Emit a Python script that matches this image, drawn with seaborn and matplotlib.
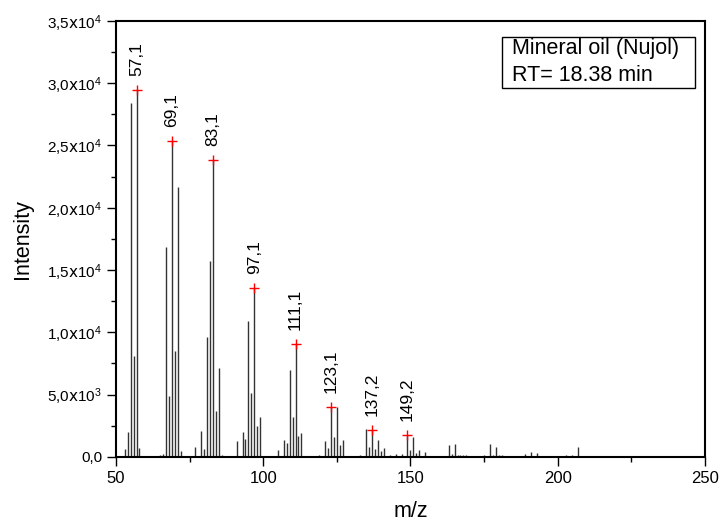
import matplotlib
matplotlib.use("Agg")
import matplotlib.pyplot as plt
import numpy as np
import pandas as pd
import seaborn as sns
from matplotlib.patches import Rectangle
from matplotlib.ticker import FuncFormatter, MultipleLocator

# m/z and intensity of every stick in the spectrum
mz = [53, 54, 55, 56, 57, 58, 65, 66, 67, 68, 69, 70, 71, 72,
      77, 79, 80, 81, 82, 83, 84, 85, 86,
      91, 93, 94, 95, 96, 97, 98, 99,
      105, 107, 108, 109, 110, 111, 112, 113,
      119, 121, 122, 123, 124, 125, 126, 127,
      133, 135, 136, 137, 138, 139, 140, 141, 143, 145, 147,
      149, 150, 151, 152, 153, 155,
      163, 164, 165, 166, 167, 168, 169,
      175, 177, 178, 179, 180, 181,
      189, 191, 193, 203, 205, 207, 217, 233]
intensity = [640, 2030, 28420, 8120, 29450, 720, 150, 200, 16870, 4890, 25350, 8500, 21630, 500,
             800, 2080, 670, 9650, 15750, 23820, 3710, 7160, 150,
             1280, 2000, 1440, 10930, 5110, 13580, 2510, 3230,
             560, 1360, 1150, 6980, 3230, 9040, 1680, 1950,
             120, 1310, 750, 4040, 1630, 3990, 960, 1360,
             150, 2220, 780, 2170, 620, 1360, 510, 700, 180, 250, 200,
             1760, 560, 1580, 350, 560, 370,
             960, 200, 1040, 150, 150, 120, 120,
             150, 1040, 160, 780, 130, 120,
             220, 380, 300, 130, 130, 830, 100, 100]

# labelled peaks
peak_mz = [57, 69, 83, 97, 111, 123, 137, 149]
peak_labels = ["57,1", "69,1", "83,1", "97,1", "111,1", "123,1", "137,2", "149,2"]

df = pd.DataFrame({"mz": mz, "intensity": intensity})
peaks = df.set_index("mz").loc[peak_mz].reset_index()
peaks["label"] = peak_labels

sns.set_theme(style="ticks")
plt.rcParams["font.family"] = ["Liberation Sans", "DejaVu Sans"]
plt.rcParams["mathtext.default"] = "regular"
plt.rcParams["text.color"] = "black"
plt.rcParams["axes.labelcolor"] = "black"
plt.rcParams["xtick.color"] = "black"
plt.rcParams["ytick.color"] = "black"

fig, ax = plt.subplots(figsize=(7.2, 5.21), dpi=100)
fig.subplots_adjust(left=0.161, right=0.979, top=0.960, bottom=0.123)

# sticks
ax.vlines(df.mz, 0, df.intensity, color="#333333", lw=1.0)

# peak markers
sns.scatterplot(data=peaks, x="mz", y="intensity", marker="+", color="red",
                s=50, linewidth=1.0, ax=ax, zorder=5, legend=False)
for _, row in peaks.iterrows():
    ax.annotate(row.label, (row.mz, row.intensity), xytext=(0, 10),
                textcoords="offset points", rotation=90, ha="center",
                va="bottom", fontsize=12.5, color="black")

ax.set_xlim(50, 250)
ax.set_ylim(0, 35000)
ax.xaxis.set_major_locator(MultipleLocator(50))
ax.xaxis.set_minor_locator(MultipleLocator(25))
ax.yaxis.set_major_locator(MultipleLocator(5000))
ax.yaxis.set_minor_locator(MultipleLocator(2500))


def sci_comma(v, pos):
    if v == 0:
        return "0,0"
    exp = int(np.floor(np.log10(abs(v))))
    mant = "{:.1f}".format(v / 10 ** exp).replace(".", "{,}")
    return r"$%s\mathrm{x}10^{%d}$" % (mant, exp)


ax.yaxis.set_major_formatter(FuncFormatter(sci_comma))

for s in ax.spines.values():
    s.set_linewidth(1.5)
    s.set_color("black")
ax.tick_params(which="major", length=6.5, width=1.0, labelsize=11)
ax.tick_params(which="minor", length=3.5, width=1.0)
ax.tick_params(axis="x", labelsize=12)

ax.set_xlabel("m/z", fontsize=15.5, labelpad=11)
ax.set_ylabel("Intensity", fontsize=15.5, labelpad=10)

# info box
ax.add_patch(Rectangle((0.655, 0.846), 0.329, 0.117, transform=ax.transAxes,
                       fc="white", ec="black", lw=1.0, zorder=6))
ax.text(0.672, 0.9236, "Mineral oil (Nujol)", transform=ax.transAxes,
        ha="left", va="baseline", fontsize=15.5, zorder=7)
ax.text(0.672, 0.8624, "RT= 18.38 min", transform=ax.transAxes,
        ha="left", va="baseline", fontsize=15.5, zorder=7)

fig.savefig("out.png", dpi=100)
